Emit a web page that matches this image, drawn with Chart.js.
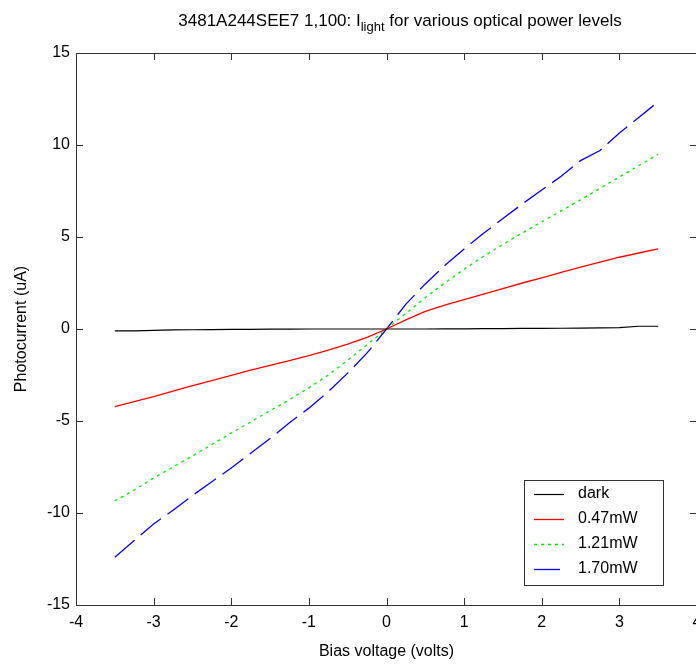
<!DOCTYPE html>
<html>
<head>
<meta charset="utf-8">
<script src="https://cdn.jsdelivr.net/npm/chart.js@4"></script>
<style>
  html, body { margin: 0; padding: 0; background: #fff; overflow: hidden; }
  canvas { display: block; }
</style>
</head>
<body>
<canvas id="myChart" width="720" height="664"></canvas>
<script>
Chart.defaults.font.family = '"Liberation Sans", Arial, sans-serif'
Chart.defaults.color = '#000'

// bias voltage (volts)
const volts = [-3.5, -3.25, -3.0, -2.75, -2.5, -2.25, -2.0, -1.75, -1.5, -1.25, -1.0, -0.75, -0.5, -0.25,
  0, 0.25, 0.5, 0.75, 1.0, 1.25, 1.5, 1.75, 2.0, 2.25, 2.5, 2.75, 3.0, 3.25, 3.5]
// photocurrent (uA)
const dark = [-0.1, -0.1, -0.08, -0.05, -0.04, -0.03, -0.02, -0.02, -0.01, -0.01, 0, 0, 0, 0,
  0, 0, 0, 0.01, 0.01, 0.02, 0.02, 0.03, 0.03, 0.04, 0.05, 0.06, 0.08, 0.15, 0.15]
const p047 = [-4.22, -3.95, -3.68, -3.38, -3.08, -2.8, -2.52, -2.24, -1.98, -1.72, -1.45, -1.15, -0.82, -0.45,
  0, 0.5, 0.96, 1.3, 1.6, 1.9, 2.2, 2.5, 2.78, 3.08, 3.36, 3.64, 3.9, 4.13, 4.35]
const p121 = [-9.35, -8.75, -8.1, -7.5, -6.9, -6.28, -5.66, -5.05, -4.44, -3.84, -3.2, -2.5, -1.7, -0.85,
  0, 0.85, 1.7, 2.5, 3.25, 3.95, 4.6, 5.22, 5.82, 6.42, 7.02, 7.64, 8.26, 8.88, 9.5]
const p170 = [-12.4, -11.5, -10.6, -9.85, -9.05, -8.3, -7.55, -6.75, -5.95, -5.1, -4.3, -3.4, -2.4, -1.3,
  0, 1.35, 2.45, 3.45, 4.35, 5.2, 6.0, 6.8, 7.55, 8.3, 9.15, 9.7, 10.65, 11.5, 12.35]

const labels = ['dark', '0.47mW', '1.21mW', '1.70mW']
const xTicks = [-4, -3, -2, -1, 0, 1, 2, 3, 4]
const yTicks = [-15, -10, -5, 0, 5, 10, 15]

const pts = arr => arr.map((v, i) => ({x: volts[i], y: v}))

const frame = {
  id: 'frame',
  afterDraw(chart) {
    const {ctx, chartArea: a, scales: {x, y}} = chart
    ctx.save()
    // axes box with inward ticks
    ctx.strokeStyle = '#333'
    ctx.lineWidth = 1
    ctx.setLineDash([])
    ctx.strokeRect(a.left + 0.5, a.top + 0.5, a.right - a.left, a.bottom - a.top)
    ctx.beginPath()
    xTicks.forEach(v => {
      const px = Math.round(x.getPixelForValue(v)) + 0.5
      ctx.moveTo(px, a.top); ctx.lineTo(px, a.top + 7)
      ctx.moveTo(px, a.bottom); ctx.lineTo(px, a.bottom - 7)
    })
    yTicks.forEach(v => {
      const py = Math.round(y.getPixelForValue(v)) + 0.5
      ctx.moveTo(a.left, py); ctx.lineTo(a.left + 7, py)
      ctx.moveTo(a.right, py); ctx.lineTo(a.right - 7, py)
    })
    ctx.stroke()

    // legend
    const bx = 524, by = 480, bw = 139, bh = 105
    ctx.fillStyle = '#fff'
    ctx.fillRect(bx, by, bw, bh)
    ctx.strokeStyle = '#333'
    ctx.strokeRect(bx + 0.5, by + 0.5, bw, bh)
    ctx.font = '16px "Liberation Sans", Arial, sans-serif'
    ctx.textBaseline = 'middle'
    chart.data.datasets.forEach((ds, i) => {
      const ry = by + 14 + i * 25
      ctx.strokeStyle = ds.borderColor
      ctx.lineWidth = ds.borderWidth
      ctx.setLineDash(ds.borderDash || [])
      ctx.beginPath()
      ctx.moveTo(bx + 10, ry + 0.5); ctx.lineTo(bx + 40, ry + 0.5)
      ctx.stroke()
      ctx.setLineDash([])
      ctx.fillStyle = '#000'
      ctx.fillText(ds.label, bx + 54, ry)
    })

    // title with subscript
    const t1 = '3481A244SEE7 1,100: I', t2 = 'light', t3 = ' for various optical power levels'
    ctx.textBaseline = 'alphabetic'
    ctx.font = '17px "Liberation Sans", Arial, sans-serif'
    const w1 = ctx.measureText(t1).width, w3 = ctx.measureText(t3).width
    ctx.font = '13px "Liberation Sans", Arial, sans-serif'
    const w2 = ctx.measureText(t2).width
    let tx = 400 - (w1 + w2 + w3) / 2
    ctx.fillStyle = '#000'
    ctx.font = '17px "Liberation Sans", Arial, sans-serif'
    ctx.fillText(t1, tx, 26)
    tx += w1
    ctx.font = '13px "Liberation Sans", Arial, sans-serif'
    ctx.fillText(t2, tx, 31)
    tx += w2
    ctx.font = '17px "Liberation Sans", Arial, sans-serif'
    ctx.fillText(t3, tx, 26)
    ctx.restore()
  }
}

const ctx = document.getElementById('myChart')
const myChart = new Chart(ctx, {
  type: 'line',
  data: {
    datasets: [
      {label: labels[0], data: pts(dark), borderColor: '#000000', borderWidth: 1.2},
      {label: labels[1], data: pts(p047), borderColor: '#ff0000', borderWidth: 1.3},
      {label: labels[2], data: pts(p121), borderColor: '#00ee00', borderWidth: 1.3, borderDash: [3, 4]},
      {label: labels[3], data: pts(p170), borderColor: '#0000ff', borderWidth: 1.3, borderDash: [26, 8]}
    ]
  },
  options: {
    responsive: false,
    animation: false,
    elements: {point: {radius: 0}, line: {tension: 0}},
    layout: {padding: {top: 53, right: 23, left: 0, bottom: 0}},
    plugins: {legend: {display: false}, tooltip: {enabled: false}},
    scales: {
      x: {
        type: 'linear',
        min: -4, max: 4,
        afterFit(s) { s.height = 59 },
        grid: {display: false, drawTicks: false},
        border: {display: false},
        afterBuildTicks(s) { s.ticks = xTicks.map(v => ({value: v})) },
        ticks: {padding: 8, font: {size: 16}, color: '#000', maxRotation: 0, autoSkip: false},
        title: {display: true, text: 'Bias voltage (volts)', font: {size: 16}, color: '#000', padding: {top: 0, bottom: 3}}
      },
      y: {
        type: 'linear',
        min: -15, max: 15,
        afterFit(s) { s.width = 76 },
        grid: {display: false, drawTicks: false},
        border: {display: false},
        afterBuildTicks(s) { s.ticks = yTicks.map(v => ({value: v})) },
        ticks: {padding: 6, font: {size: 16}, color: '#000', autoSkip: false},
        title: {display: true, text: 'Photocurrent (uA)', font: {size: 16}, color: '#000', padding: {top: 12, bottom: 0}}
      }
    }
  },
  plugins: [frame]
})
</script>
</body>
</html>
